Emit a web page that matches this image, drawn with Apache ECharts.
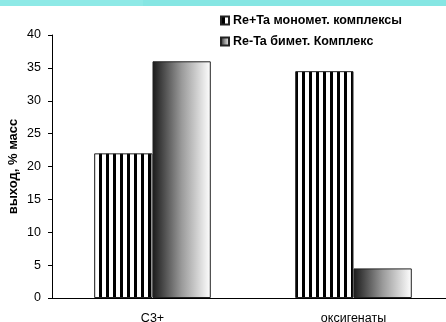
<!DOCTYPE html>
<html>
<head>
<meta charset="utf-8">
<script src="https://cdn.jsdelivr.net/npm/echarts@6/dist/echarts.min.js"></script>
<style>
  html, body { margin: 0; padding: 0; background: #fff; }
  #chart { width: 446px; height: 322px; }
</style>
</head>
<body>
<div id="chart"></div>
<script>
// Product yield by fraction for the two catalyst types
const categories = ['C3+', 'оксигенаты'];
const seriesNames = ['Re+Ta мономет. комплексы', 'Re-Ta бимет. Комплекс'];
const monometallic = [22, 34.5];
const bimetallic = [36, 4.5];
const yTicks = { min: 0, max: 40, interval: 5 };

// vertical black/white stripe fill
function stripePattern() {
  const c = document.createElement('canvas');
  c.width = 7; c.height = 7;
  const ctx = c.getContext('2d');
  ctx.fillStyle = '#fff';
  ctx.fillRect(0, 0, 7, 7);
  ctx.fillStyle = '#000';
  ctx.fillRect(1, 0, 3, 7);
  return { image: c, repeat: 'repeat' };
}

// horizontal dark-to-white gradient fill
const fade = {
  type: 'linear', x: 0, y: 0, x2: 1, y2: 0,
  colorStops: [
    { offset: 0, color: '#1a1a1a' },
    { offset: 0.5, color: '#9a9a9a' },
    { offset: 1, color: '#ffffff' }
  ]
};

const chart = echarts.init(document.getElementById('chart'), null, { renderer: 'canvas' });
const font = 'Liberation Sans, Arial, sans-serif';

chart.setOption({
  animation: false,
  backgroundColor: '#fff',
  graphic: [
    { type: 'rect', left: 0, top: 0, shape: { width: 446, height: 6 }, style: { fill: '#86e6e3' }, silent: true },
    { type: 'rect', left: 0, top: 0, shape: { width: 143, height: 6 }, style: { fill: '#8ee9e6' }, silent: true }
  ],
  grid: { left: 52, top: 35, bottom: 24, width: 402, outerBoundsMode: 'none', containLabel: false },
  legend: {
    left: 215, top: 9,
    orient: 'vertical',
    itemGap: 8,
    itemWidth: 8, itemHeight: 8,
    icon: 'rect',
    textStyle: { fontFamily: font, fontSize: 12.5, fontWeight: 'bold', color: '#000', padding: [0, 0, 0, -1] },
    data: seriesNames
  },
  xAxis: {
    type: 'category',
    data: categories,
    axisLine: { lineStyle: { color: '#000', width: 1 } },
    axisTick: { length: 4, lineStyle: { color: '#000' } },
    axisLabel: { fontFamily: font, fontSize: 12.5, color: '#000', margin: 14 }
  },
  yAxis: {
    type: 'value',
    min: yTicks.min, max: yTicks.max, interval: yTicks.interval,
    name: 'выход, % масс',
    nameLocation: 'middle',
    nameGap: 32,
    nameMoveOverlap: false,
    nameTextStyle: { fontFamily: font, fontSize: 13, fontWeight: 'bold', color: '#000' },
    axisLine: { show: true, lineStyle: { color: '#000', width: 1 } },
    axisTick: { show: true, length: 4, lineStyle: { color: '#000' } },
    axisLabel: { fontFamily: font, fontSize: 12.5, color: '#000', margin: 11 },
    splitLine: { show: false }
  },
  series: [
    {
      name: seriesNames[0], type: 'bar', data: monometallic,
      barGap: '0%', barCategoryGap: '42%',
      itemStyle: { color: stripePattern(), borderColor: '#222', borderWidth: 1 }
    },
    {
      name: seriesNames[1], type: 'bar', data: bimetallic,
      barGap: '0%', barCategoryGap: '42%',
      itemStyle: { color: fade, borderColor: '#222', borderWidth: 1 }
    }
  ]
});
</script>
</body>
</html>
